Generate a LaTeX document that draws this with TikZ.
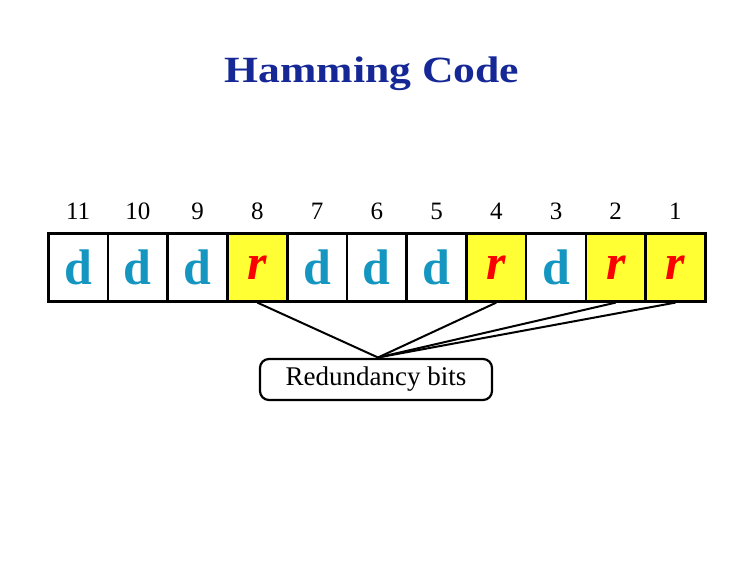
\documentclass[tikz,border=0pt]{standalone}
\usepackage{fontspec}
\setmainfont{Liberation Serif}
\definecolor{titleblue}{RGB}{22,40,150}
\definecolor{dteal}{RGB}{20,150,192}
\definecolor{rred}{RGB}{250,0,0}
\definecolor{cellyellow}{RGB}{255,255,51}
\begin{document}
\begin{tikzpicture}[x=1pt,y=1pt,
  cell/.style={draw=black,line width=2.6pt,minimum width=59.73pt,minimum height=68pt,inner sep=0pt,anchor=north west},
  dcell/.style={cell,fill=white,text=dteal,font=\fontsize{50}{50}\selectfont\bfseries},
  rcell/.style={cell,fill=cellyellow,text=rred,font=\fontsize{50}{50}\selectfont\bfseries\itshape},
  num/.style={font=\fontsize{25}{25}\selectfont,inner sep=0pt},
  link/.style={line width=2pt},
  rbbox/.style={draw=black,line width=2.2pt,rounded corners=9pt,minimum width=232pt,minimum height=41pt,inner sep=0pt,font=\fontsize{27}{27}\selectfont}]
\useasboundingbox (0,0) rectangle (743,-567);
\node[font=\fontsize{37}{37}\selectfont\bfseries,text=titleblue] (title) at (372,-74) {\scalebox{1.18}[1]{Hamming Code}};
\foreach \n/\s/\t [count=\i from 0] in {11/dcell/d,10/dcell/d,9/dcell/d,8/rcell/r,7/dcell/d,6/dcell/d,5/dcell/d,4/rcell/r,3/dcell/d,2/rcell/r,1/rcell/r}{
  \pgfmathsetmacro{\xx}{47+59.73*\i}
  \node[\s] (c\n) at (\xx,-232) {\raisebox{-4pt}{\t}};
  \node[num] (n\n) at ([yshift=21pt]c\n.north) {\n};
}
\node[rbbox] (rb) at (376,-379.5) {\raisebox{-1pt}{Redundancy bits}};
\coordinate (m) at (378,-357.5);
\foreach \n in {8,4,2,1}{
  \draw[link] (c\n.south) -- (m);
}
\end{tikzpicture}
\end{document}
